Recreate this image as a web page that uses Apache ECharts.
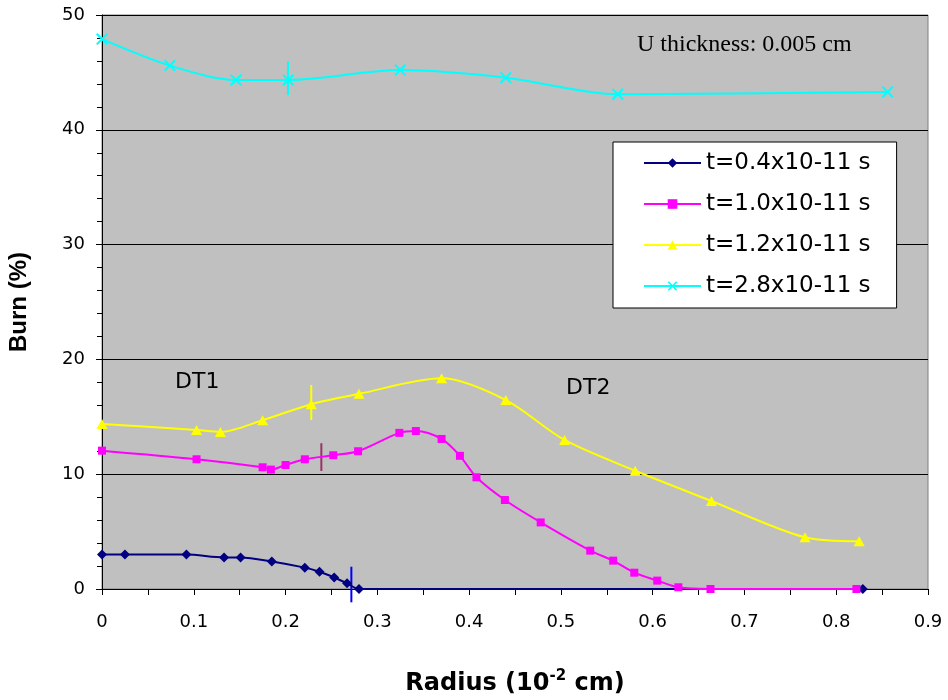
<!DOCTYPE html>
<html>
<head>
<meta charset="utf-8">
<script src="https://cdn.jsdelivr.net/npm/echarts@6/dist/echarts.min.js"></script>
<style>
  html, body { margin: 0; padding: 0; background: #ffffff; }
  #container { width: 948px; height: 700px; }
</style>
</head>
<body>
<div id="container"></div>
<script>
var dom = document.getElementById("container");
var myChart = echarts.init(dom);

var seriesNames = ['t=0.4x10-11 s', 't=1.0x10-11 s', 't=1.2x10-11 s', 't=2.8x10-11 s'];

// t=0.4
var radius04 = [0.0, 0.025, 0.092, 0.133, 0.151, 0.185, 0.221, 0.237, 0.253, 0.267, 0.280, 0.829];
var burn04 = [3.0, 3.0, 3.0, 2.75, 2.75, 2.4, 1.86, 1.5, 1.0, 0.5, 0.0, 0.0];

// t=1.0
var radius10 = [0.0, 0.103, 0.175, 0.184, 0.200, 0.221, 0.252, 0.279, 0.324, 0.342, 0.370, 0.390,
  0.408, 0.439, 0.478, 0.532, 0.557, 0.580, 0.605, 0.628, 0.663, 0.822];
var burn10 = [12.05, 11.3, 10.6, 10.4, 10.8, 11.3, 11.65, 12.0, 13.6, 13.76, 13.07, 11.6,
  9.73, 7.75, 5.8, 3.34, 2.47, 1.42, 0.73, 0.15, 0.0, 0.0];

// t=1.2
var radius12 = [0.0, 0.103, 0.129, 0.175, 0.228, 0.280, 0.370, 0.440, 0.504, 0.581, 0.664, 0.766, 0.825];
var burn12 = [14.37, 13.85, 13.68, 14.7, 16.1, 17.0, 18.35, 16.46, 12.98, 10.3, 7.67, 4.5, 4.15];

// t=2.8
var radius28 = [0.0, 0.074, 0.146, 0.203, 0.325, 0.440, 0.562, 0.856];
var burn28 = [47.9, 45.6, 44.34, 44.34, 45.2, 44.54, 43.1, 43.3];

// vertical DT1/DT2 boundary markers
var markX = [0.2026, 0.228, 0.239, 0.2717];
var markLow = [43.03, 14.72, 10.28, -1.16];
var markHigh = [45.93, 17.77, 12.7, 1.94];
var markColors = ['#00ffff', '#ffff00', '#993366', '#0000ff'];

var xTicks = { min: 0, max: 0.9, interval: 0.1 };
var yTicks = { min: 0, max: 50, interval: 10 };

function pairs(xs, ys) {
  var out = [];
  for (var i = 0; i < xs.length; i++) out.push([xs[i], ys[i]]);
  return out;
}

var markData = [];
for (var i = 0; i < markX.length; i++) markData.push([markX[i], markLow[i], markHigh[i]]);

var crossPath = 'path://M0,1.2L1.2,0L10,8.8L8.8,10ZM8.8,0L10,1.2L1.2,10L0,8.8Z';
var sansFont = 'DejaVu Sans';

var option = {
  backgroundColor: '#ffffff',
  animation: false,
  textStyle: { fontFamily: sansFont, color: '#000' },
  grid: {
    left: 102, top: 15, right: 20, bottom: 111,
    outerBoundsMode: 'none',
    containLabel: false,
    show: true, backgroundColor: '#c0c0c0', borderColor: '#808080', borderWidth: 1
  },
  legend: {
    data: seriesNames,
    orient: 'vertical',
    left: 613, top: 142,
    padding: [8, 26, 9, 30],
    itemGap: 15,
    itemWidth: 57, itemHeight: 12,
    backgroundColor: '#ffffff',
    borderColor: '#000000', borderWidth: 1,
    textStyle: { fontFamily: sansFont, fontSize: 23, lineHeight: 26, color: '#000' }
  },
  xAxis: {
    type: 'value',
    min: xTicks.min, max: xTicks.max, interval: xTicks.interval,
    name: '{a|Radius (10}{s|-2}{a| cm)}',
    nameLocation: 'middle',
    nameGap: 80,
    nameTextStyle: {
      rich: {
        a: { fontFamily: sansFont, fontSize: 24, fontWeight: 'bold', color: '#000', lineHeight: 30 },
        s: { fontFamily: sansFont, fontSize: 15, fontWeight: 'bold', color: '#000', lineHeight: 30, verticalAlign: 'top' }
      }
    },
    axisLine: { lineStyle: { color: '#000', width: 1 } },
    axisTick: { show: true, inside: false, length: 6, lineStyle: { color: '#000' } },
    minorTick: { show: true, splitNumber: 2, length: 6, lineStyle: { color: '#000' } },
    splitLine: { show: false },
    axisLabel: { fontFamily: sansFont, fontSize: 18, color: '#000', margin: 24 }
  },
  yAxis: {
    type: 'value',
    min: yTicks.min, max: yTicks.max, interval: yTicks.interval,
    name: 'Burn (%)',
    nameLocation: 'middle',
    nameRotate: 90,
    nameGap: 71,
    nameTextStyle: { fontFamily: 'Liberation Sans', fontSize: 24, fontWeight: 'bold', color: '#000' },
    axisLine: { show: true, lineStyle: { color: '#000', width: 1 } },
    axisTick: { show: true, inside: false, length: 6, lineStyle: { color: '#000' } },
    minorTick: { show: true, splitNumber: 5, length: 5, lineStyle: { color: '#000' } },
    splitLine: { show: true, lineStyle: { color: '#000', width: 1 } },
    axisLabel: { fontFamily: sansFont, fontSize: 18, color: '#000', margin: 17 }
  },
  graphic: [
    { type: 'text', left: 637, top: 33, style: { text: 'U thickness: 0.005 cm', font: '24px "Liberation Serif"', fill: '#000' } },
    { type: 'text', left: 175, top: 371, style: { text: 'DT1', font: '22px "DejaVu Sans"', fill: '#000' } },
    { type: 'text', left: 566, top: 377, style: { text: 'DT2', font: '22px "DejaVu Sans"', fill: '#000' } }
  ],
  series: [
    {
      name: seriesNames[0], type: 'line', smooth: 0.3,
      data: pairs(radius04, burn04),
      symbol: 'diamond', symbolSize: [10, 10],
      lineStyle: { color: '#000080', width: 2 },
      itemStyle: { color: '#000080' }
    },
    {
      name: seriesNames[1], type: 'line', smooth: 0.3,
      data: pairs(radius10, burn10),
      symbol: 'rect', symbolSize: 8,
      lineStyle: { color: '#ff00ff', width: 2 },
      itemStyle: { color: '#ff00ff' }
    },
    {
      name: seriesNames[2], type: 'line', smooth: 0.3,
      data: pairs(radius12, burn12),
      symbol: 'triangle', symbolSize: [11, 10],
      lineStyle: { color: '#ffff00', width: 2 },
      itemStyle: { color: '#ffff00' }
    },
    {
      name: seriesNames[3], type: 'line', smooth: 0.3,
      data: pairs(radius28, burn28),
      symbol: crossPath, symbolSize: 12,
      lineStyle: { color: '#00ffff', width: 2 },
      itemStyle: { color: '#00ffff' }
    },
    {
      name: 'markers', type: 'custom', clip: false, z: 3,
      data: markData,
      encode: { x: 0, y: [1, 2] },
      renderItem: function (params, api) {
        var p1 = api.coord([api.value(0), api.value(1)]);
        var p2 = api.coord([api.value(0), api.value(2)]);
        return {
          type: 'line',
          shape: { x1: p1[0], y1: p1[1], x2: p2[0], y2: p2[1] },
          style: { stroke: markColors[params.dataIndex], lineWidth: 2 }
        };
      }
    }
  ]
};

if (option && typeof option === 'object') {
  myChart.setOption(option);
}
</script>
</body>
</html>
